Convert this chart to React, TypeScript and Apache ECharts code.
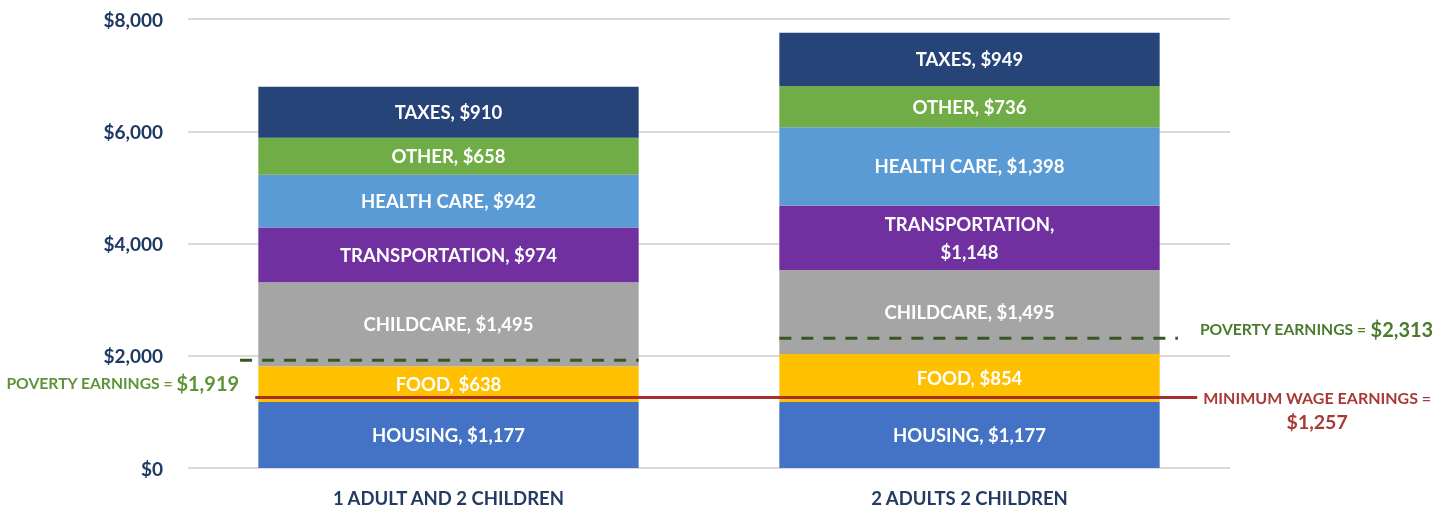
import React, { useEffect, useRef } from "react";
import * as echarts from "echarts";

const categories = ["1 ADULT AND 2 CHILDREN", "2 ADULTS 2 CHILDREN"];
const seriesNames = ["HOUSING", "FOOD", "CHILDCARE", "TRANSPORTATION", "HEALTH CARE", "OTHER", "TAXES"];
const housing = [1177, 1177];
const food = [638, 854];
const childcare = [1495, 1495];
const transportation = [974, 1148];
const healthCare = [942, 1398];
const other = [658, 736];
const taxes = [910, 949];
const povertyEarnings = [1919, 2313];
const minimumWageEarnings = 1257;
const yTickValues = [0, 2000, 4000, 6000, 8000];

const seriesValues = [housing, food, childcare, transportation, healthCare, other, taxes];
const seriesColors = ["#4472C4", "#FFC000", "#A5A5A5", "#7030A0", "#5B9BD5", "#70AD47", "#264478"];

const FONT = "Lato";
const money = (v: number) => "$" + v.toLocaleString("en-US");

export default function App() {
  const ref = useRef<HTMLDivElement>(null);
  useEffect(() => {
    if (!ref.current) return;
    const chart = echarts.init(ref.current, undefined, { renderer: "svg" });
    const barSeries = seriesNames.map((name, i) => ({
      name,
      type: "bar",
      stack: "total",
      barWidth: "73%",
      silent: true,
      itemStyle: { color: seriesColors[i] },
      label: {
        show: true,
        position: "inside",
        color: "#ffffff",
        fontFamily: FONT,
        fontWeight: "bold",
        fontSize: 18.5,
        lineHeight: 28,
        align: "center",
        formatter: (p: any) => {
          const full = `${name}, ${money(p.value)}`;
          return full.length > 20 ? `${name},\n${money(p.value)}` : full;
        },
      },
      data: seriesValues[i],
    }));

    const greenA = { color: "#5E9438", fontFamily: FONT, fontWeight: "bold", fontSize: 15.7 };
    const greenB = { color: "#5E9438", fontFamily: FONT, fontWeight: "bold", fontSize: 20 };
    const darkGreenA = { ...greenA, color: "#4A7A2C" };
    const darkGreenB = { ...greenB, color: "#4A7A2C" };

    const option: any = {
      animation: false,
      grid: { left: 188, right: 220, top: 19, bottom: 40, containLabel: false },
      xAxis: [
        {
          type: "category",
          data: categories,
          axisLine: { show: false },
          axisTick: { show: false },
          axisLabel: {
            margin: 20,
            color: "#243B62",
            fontFamily: FONT,
            fontWeight: "bold",
            fontSize: 18.5,
          },
        },
        { type: "value", min: 0, max: 2, show: false },
      ],
      yAxis: {
        type: "value",
        min: yTickValues[0],
        max: yTickValues[yTickValues.length - 1],
        interval: yTickValues[1] - yTickValues[0],
        axisLine: { show: false },
        axisTick: { show: false },
        splitLine: { lineStyle: { color: "#D9D9D9", width: 2 } },
        axisLabel: {
          margin: 25,
          color: "#203864",
          fontFamily: FONT,
          fontWeight: "bold",
          fontSize: 19,
          formatter: (v: number) => money(v),
        },
      },
      series: [
        ...barSeries,
        {
          type: "line",
          xAxisIndex: 1,
          silent: true,
          symbol: "circle",
          symbolSize: 0,
          lineStyle: { color: "#A52F2F", width: 3 },
          itemStyle: { color: "transparent" },
          data: [
            [0.129, minimumWageEarnings],
            {
              value: [1.937, minimumWageEarnings],
              label: {
                show: true,
                position: "right",
                distance: 6,
                offset: [0, 12],
                formatter: `{a|MINIMUM WAGE EARNINGS =}\n{b|${money(minimumWageEarnings)}}`,
                rich: {
                  a: { color: "#A83A36", fontFamily: FONT, fontWeight: "bold", fontSize: 16, align: "center", lineHeight: 24 },
                  b: { color: "#A83A36", fontFamily: FONT, fontWeight: "bold", fontSize: 19.5, align: "center", lineHeight: 24 },
                },
              },
            },
          ],
        },
        {
          type: "line",
          xAxisIndex: 1,
          silent: true,
          symbol: "circle",
          symbolSize: 0,
          lineStyle: { color: "#375623", width: 3, type: [12, 10] },
          itemStyle: { color: "transparent" },
          data: [
            {
              value: [0.1, povertyEarnings[0]],
              label: {
                show: true,
                position: "left",
                distance: 1,
                offset: [0, 23],
                formatter: `{a|POVERTY EARNINGS = }{b|${money(povertyEarnings[0])}}`,
                rich: { a: greenA, b: greenB },
              },
            },
            [0.865, povertyEarnings[0]],
          ],
        },
        {
          type: "line",
          xAxisIndex: 1,
          silent: true,
          symbol: "circle",
          symbolSize: 0,
          lineStyle: { color: "#375623", width: 3, type: [12, 10] },
          itemStyle: { color: "transparent" },
          data: [
            [1.135, povertyEarnings[1]],
            {
              value: [1.9, povertyEarnings[1]],
              label: {
                show: true,
                position: "right",
                distance: 22,
                offset: [0, -9],
                formatter: `{a|POVERTY EARNINGS = }{b|${money(povertyEarnings[1])}}`,
                rich: { a: darkGreenA, b: darkGreenB },
              },
            },
          ],
        },
      ],
    };
    chart.setOption(option);
    return () => chart.dispose();
  }, []);
  return <div ref={ref} style={{ position: "fixed", left: 0, top: 0, width: 1450, height: 508 }} />;
}
